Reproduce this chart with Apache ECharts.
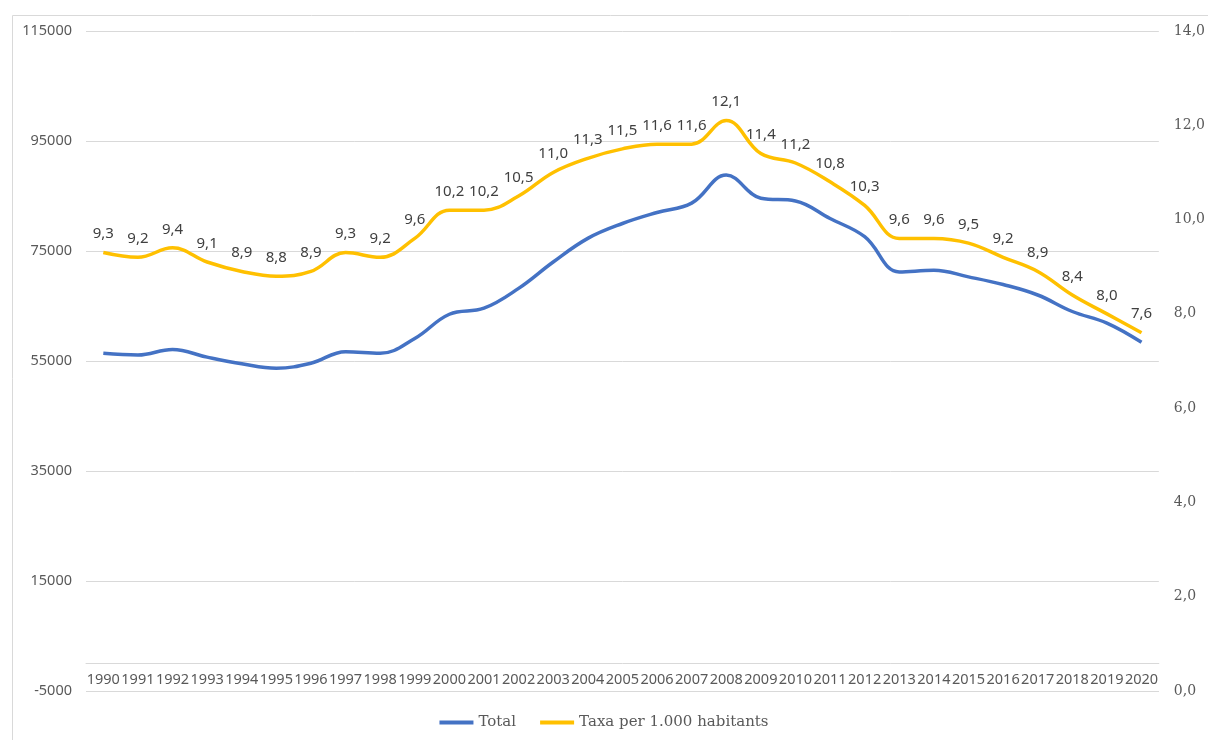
<!DOCTYPE html>
<html>
<head>
<meta charset="utf-8">
<script src="https://cdn.jsdelivr.net/npm/echarts@6/dist/echarts.min.js"></script>
<style>
    html, body { margin: 0; padding: 0; background: #fff; }
    #chart { width: 1208px; height: 740px; }
</style>
</head>
<body>
<div id="chart"></div>
<script>
    var years = ['1990', '1991', '1992', '1993', '1994', '1995', '1996', '1997', '1998', '1999',
        '2000', '2001', '2002', '2003', '2004', '2005', '2006', '2007', '2008', '2009',
        '2010', '2011', '2012', '2013', '2014', '2015', '2016', '2017', '2018', '2019', '2020'];

    // nombre total (eix esquerre), llegit del gràfic
    var total = [56400, 56100, 57100, 55700, 54500, 53700, 54600, 56700, 56400, 59100,
        63500, 64600, 68200, 73000, 77300, 80000, 82000, 83700, 88800, 84600,
        84100, 80900, 77600, 71200, 71500, 70300, 68900, 67000, 64000, 61900, 58400];

    // taxa per 1.000 habitants (eix dret)
    var taxa = [9.3, 9.2, 9.4, 9.1, 8.9, 8.8, 8.9, 9.3, 9.2, 9.6,
        10.2, 10.2, 10.5, 11.0, 11.3, 11.5, 11.6, 11.6, 12.1, 11.4,
        11.2, 10.8, 10.3, 9.6, 9.6, 9.5, 9.2, 8.9, 8.4, 8.0, 7.6];

    var leftMin = -5000, leftMax = 115000, leftStep = 20000;

    var sans = '"Noto Sans", "Open Sans", sans-serif';
    var serif = '"DejaVu Serif", serif';
    var comma1 = function (v) { return Number(v).toFixed(1).replace('.', ','); };

    var chart = echarts.init(document.getElementById('chart'));
    chart.setOption({
        animation: false,
        graphic: [{
            type: 'rect',
            left: 10, top: 13,
            shape: { width: 1220, height: 760 },
            style: { fill: 'none', stroke: '#d9d9d9', lineWidth: 1 },
            silent: true
        }],
        grid: { left: 86, right: 43, top: 31, bottom: 49 },
        legend: {
            bottom: 5,
            left: 'center',
            icon: 'rect',
            itemWidth: 34,
            itemHeight: 4,
            itemGap: 24,
            textStyle: { fontFamily: serif, fontSize: 15, color: '#595959' },
            data: ['Total', 'Taxa per 1.000 habitants']
        },
        xAxis: {
            type: 'category',
            data: years,
            boundaryGap: true,
            // the category axis sits at 0 of the left axis
            offset: -27.5,
            axisLine: { onZero: false, lineStyle: { color: '#d9d9d9', width: 1 } },
            axisTick: { show: false },
            axisLabel: { interval: 0, margin: 9, color: '#595959', fontFamily: sans, fontSize: 14.5 }
        },
        yAxis: [{
            type: 'value',
            min: leftMin, max: leftMax, interval: leftStep,
            axisLine: { show: false },
            axisTick: { show: false },
            axisLabel: { margin: 14, color: '#595959', fontFamily: sans, fontSize: 14.5, formatter: function (v) { return String(v); } },
            splitLine: { show: true, lineStyle: { color: '#d9d9d9', width: 1 } }
        }, {
            type: 'value',
            min: 0, max: 14, interval: 2,
            axisLine: { show: false },
            axisTick: { show: false },
            axisLabel: { margin: 15, color: '#595959', fontFamily: serif, fontSize: 14, formatter: comma1 },
            splitLine: { show: false }
        }],
        series: [{
            name: 'Total',
            type: 'line',
            yAxisIndex: 0,
            data: total,
            smooth: 0.4,
            clip: false,
            symbol: 'none',
            lineStyle: { color: '#4472C4', width: 3.5 },
            itemStyle: { color: '#4472C4' },
            // bottom gridline (-5000)
            markLine: {
                silent: true,
                symbol: 'none',
                label: { show: false },
                lineStyle: { color: '#d9d9d9', type: 'solid', width: 1 },
                data: [{ yAxis: leftMin }]
            }
        }, {
            name: 'Taxa per 1.000 habitants',
            type: 'line',
            yAxisIndex: 1,
            data: taxa,
            smooth: 0.4,
            symbol: 'circle',
            symbolSize: 0,
            showSymbol: true,
            lineStyle: { color: '#FFC000', width: 3.5 },
            itemStyle: { color: '#FFC000' },
            label: {
                show: true,
                position: 'top',
                distance: 11,
                color: '#404040',
                fontFamily: sans,
                fontSize: 15,
                formatter: function (p) { return comma1(p.value); }
            },
            labelLayout: { hideOverlap: false }
        }]
    });
</script>
</body>
</html>
